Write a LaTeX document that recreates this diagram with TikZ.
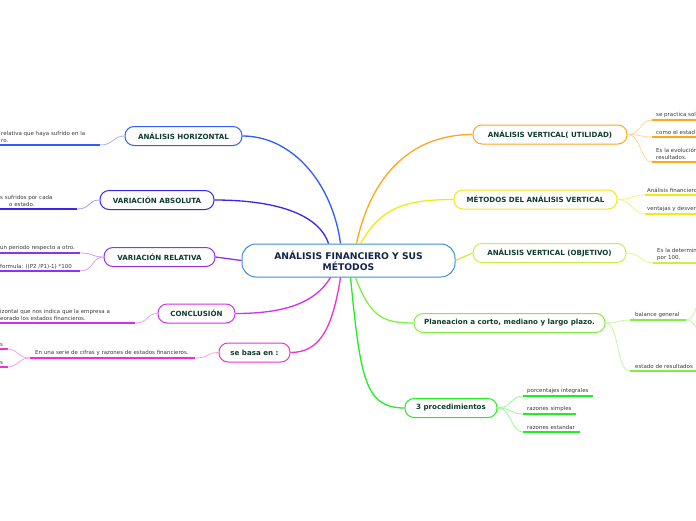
\documentclass[tikz,border=0pt]{standalone}
\usepackage{fontspec}
\setmainfont{DejaVu Sans}
\definecolor{ccentral}{HTML}{3B8ED0}
\definecolor{cnavy}{HTML}{14244A}
\definecolor{ctext}{HTML}{0E3D2E}
\definecolor{cleaf}{HTML}{3A3A3A}
\definecolor{cbA}{HTML}{2F5CFF}
\definecolor{cbB}{HTML}{3A24F0}
\definecolor{cpu}{HTML}{9030F0}
\definecolor{cma}{HTML}{D030F0}
\definecolor{cpi}{HTML}{F030D0}
\definecolor{cor}{HTML}{FFA51E}
\definecolor{cye}{HTML}{F2EA10}
\definecolor{cyg}{HTML}{C8F040}
\definecolor{cgA}{HTML}{80EE40}
\definecolor{cgB}{HTML}{20EE20}
\tikzset{
  mainbox/.style={draw=ccentral, rounded corners=14pt, line width=1pt, fill=white, align=center,
    font=\fontsize{9.2}{11}\selectfont\bfseries, text=cnavy, minimum width=213pt, minimum height=33pt, inner sep=1pt},
  topic/.style={draw, rounded corners=9pt, line width=1pt, fill=white,
    font=\fontsize{7.1}{8}\selectfont\bfseries, text=ctext, minimum height=19pt, inner xsep=0pt},
  leaf/.style={font=\fontsize{5.5}{7}\selectfont, text=cleaf, inner sep=0pt, align=left, anchor=south west},
  uline/.style={line width=2pt},
  twig/.style={line width=0.8pt},
  branch/.style={line width=1.3pt}
}
\begin{document}
\begin{tikzpicture}[x=1pt,y=-1pt]
\useasboundingbox (0,0) rectangle (696,520);
\node[mainbox] (c) at (348.5,260.5) {ANÁLISIS FINANCIERO Y SUS\\MÉTODOS};
\node[topic, draw=cbA, minimum width=117pt] (nh) at (183.5,136) {ANÁLISIS HORIZONTAL};
\node[topic, draw=cbB, minimum width=114pt] (na) at (157,200) {VARIACIÓN ABSOLUTA};
\node[topic, draw=cpu, minimum width=111pt] (nr) at (159.5,257) {VARIACIÓN RELATIVA};
\node[topic, draw=cma, minimum width=77pt] (nc) at (196.5,313.5) {CONCLUSIÓN};
\node[topic, draw=cpi, minimum width=71pt] (ns) at (254.5,352.5) {se basa en :};
\node[topic, draw=cor, minimum width=154pt] (nu) at (550,134.5) {ANÁLISIS VERTICAL( UTILIDAD)};
\node[topic, draw=cye, minimum width=163pt] (nm) at (535.5,199.5) {MÉTODOS DEL ANÁLISIS VERTICAL};
\node[topic, draw=cyg, minimum width=153pt] (no) at (549.5,253) {ANÁLISIS VERTICAL (OBJETIVO)};
\node[topic, draw=cgA, minimum width=191pt] (np) at (509.5,323) {Planeacion a corto, mediano y largo plazo.};
\node[topic, draw=cgB, minimum width=92pt] (n3) at (451,408) {3 procedimientos};

\draw[branch, cbA] ([xshift=-8pt]c.north) .. controls +(-8,-60) and +(50,0) .. (nh.east);
\draw[branch, cbB] ([xshift=-20pt]c.north) .. controls +(-10,-30) and +(60,0) .. (na.east);
\draw[branch, cpu] (c.west) -- (nr.east);
\draw[branch, cma] ([xshift=-18pt]c.south) .. controls +(-15,25) and +(50,0) .. (nc.east);
\draw[branch, cpi] ([xshift=-8pt]c.south) .. controls +(-8,50) and +(30,0) .. (ns.east);
\draw[branch, cor] ([xshift=8pt]c.north) .. controls +(15,-70) and +(-60,0) .. (nu.west);
\draw[branch, cye] ([xshift=12pt]c.north) .. controls +(20,-35) and +(-50,0) .. (nm.west);
\draw[branch, cyg] (c.east) -- (no.west);
\draw[branch, cgA] ([xshift=7pt]c.south) .. controls +(15,40) and +(-30,0) .. (np.west);
\draw[branch, cgB] ([xshift=2pt]c.south) .. controls +(10,100) and +(-40,0) .. (n3.west);

% ---- left leaves
\coordinate (h1a) at (0,145); \coordinate (h1b) at (100,145);
\node[leaf] (h1) at (1,143) {relativa que haya sufrido en la\\ro.};
\draw[uline, cbA] (h1a) -- (h1b);
\draw[twig, cbA!45] (h1b) .. controls +(14,0) and +(-12,0) .. (nh.west);

\coordinate (a1a) at (0,209); \coordinate (a1b) at (77,209);
\node[leaf] (a1) at (0,207) {s sufridos por cada\\\hspace*{9pt}o estado.};
\draw[uline, cbB] (a1a) -- (a1b);
\draw[twig, cbB!45] (a1b) .. controls +(14,0) and +(-12,0) .. (na.west);

\coordinate (r1a) at (0,253); \coordinate (r1b) at (80,253);
\node[leaf] (r1) at (0,251) {un periodo respecto a otro.};
\draw[uline, cpu] (r1a) -- (r1b);
\draw[twig, cpu!45] (r1b) .. controls +(14,0) and +(-12,0) .. (nr.west);
\coordinate (r2a) at (0,271); \coordinate (r2b) at (80,271);
\node[leaf] (r2) at (0,269) {formula: ((P2 /P1)-1) *100};
\draw[uline, cpu] (r2a) -- (r2b);
\draw[twig, cpu!45] (r2b) .. controls +(14,0) and +(-12,0) .. (nr.west);

\coordinate (k1a) at (0,323); \coordinate (k1b) at (135,323);
\node[leaf] (k1) at (0,321) {izontal que nos indica que la empresa a\\eorado los estados financieros.};
\draw[uline, cma] (k1a) -- (k1b);
\draw[twig, cma!45] (k1b) .. controls +(14,0) and +(-12,0) .. (nc.west);

\coordinate (s1a) at (30,358); \coordinate (s1b) at (195,358);
\node[leaf] (s1) at (35,356) {En una serie de cifras y razones de estados financieros.};
\draw[uline, cpi] (s1a) -- (s1b);
\draw[twig, cpi!45] (s1b) .. controls +(14,0) and +(-12,0) .. (ns.west);
\coordinate (s2a) at (0,349); \coordinate (s2b) at (8,349);
\node[leaf] (s2) at (0,347) {s};
\draw[uline, cpi] (s2a) -- (s2b);
\draw[twig, cpi!45] (s1a) .. controls +(-12,0) and +(10,0) .. (s2b);
\coordinate (s3a) at (0,367); \coordinate (s3b) at (8,367);
\node[leaf] (s3) at (0,365) {s};
\draw[uline, cpi] (s3a) -- (s3b);
\draw[twig, cpi!45] (s1a) .. controls +(-12,0) and +(10,0) .. (s3b);

% ---- right leaves
\coordinate (u1a) at (652,120); \coordinate (u1b) at (700,120);
\node[leaf] (u1) at (656,118) {se practica sol};
\draw[uline, cor] (u1a) -- (u1b);
\draw[twig, cor!45] (nu.east) .. controls +(14,0) and +(-12,0) .. (u1a);
\coordinate (u2a) at (652,137); \coordinate (u2b) at (700,137);
\node[leaf] (u2) at (656,135) {como el estad};
\draw[uline, cor] (u2a) -- (u2b);
\draw[twig, cor!45] (nu.east) .. controls +(14,0) and +(-12,0) .. (u2a);
\coordinate (u3a) at (652,162); \coordinate (u3b) at (700,162);
\node[leaf] (u3) at (656,160) {Es la evolución\\resultados.};
\draw[uline, cor] (u3a) -- (u3b);
\draw[twig, cor!45] (nu.east) .. controls +(14,0) and +(-12,0) .. (u3a);

\coordinate (m1a) at (645,195); \coordinate (m1b) at (700,195);
\node[leaf] (m1) at (647,193) {Análisis financiero};
\draw[uline, cye] (m1a) -- (m1b);
\draw[twig, cye!60] (nm.east) .. controls +(14,0) and +(-12,0) .. (m1a);
\coordinate (m2a) at (645,214); \coordinate (m2b) at (700,214);
\node[leaf] (m2) at (647,212) {ventajas y desven};
\draw[uline, cye] (m2a) -- (m2b);
\draw[twig, cye!60] (nm.east) .. controls +(14,0) and +(-12,0) .. (m2a);

\coordinate (o1a) at (653,263); \coordinate (o1b) at (700,263);
\node[leaf] (o1) at (657,261) {Es la determin\\por 100.};
\draw[uline, cyg] (o1a) -- (o1b);
\draw[twig, cyg!60] (no.east) .. controls +(14,0) and +(-12,0) .. (o1a);

\coordinate (p1a) at (630,320); \coordinate (p1b) at (686,320);
\node[leaf] (p1) at (635,318) {balance general};
\draw[uline, cgA] (p1a) -- (p1b);
\draw[twig, cgA!50] (np.east) .. controls +(14,0) and +(-12,0) .. (p1a);
\coordinate (p1c) at (700,300); \coordinate (p1d) at (700,330);
\draw[twig, cgA!50] (p1b) .. controls +(8,0) and +(-4,6) .. (p1c);
\draw[twig, cgA!50] (p1b) .. controls +(8,0) and +(-6,-2) .. (p1d);
\coordinate (p2a) at (630,371); \coordinate (p2b) at (700,371);
\node[leaf] (p2) at (635,369) {estado de resultados};
\draw[uline, cgA] (p2a) -- (p2b);
\draw[twig, cgA!50] (np.east) .. controls +(14,0) and +(-14,0) .. (p2a);

\coordinate (t1a) at (523,396); \coordinate (t1b) at (593,396);
\node[leaf] (t1) at (527,394) {porcentajes integrales};
\draw[uline, cgB] (t1a) -- (t1b);
\draw[twig, cgB!45] (n3.east) .. controls +(14,0) and +(-12,0) .. (t1a);
\coordinate (t2a) at (523,414); \coordinate (t2b) at (576,414);
\node[leaf] (t2) at (527,412) {razones simples};
\draw[uline, cgB] (t2a) -- (t2b);
\draw[twig, cgB!45] (n3.east) .. controls +(14,0) and +(-12,0) .. (t2a);
\coordinate (t3a) at (523,432); \coordinate (t3b) at (580,432);
\node[leaf] (t3) at (527,430) {razones estandar};
\draw[uline, cgB] (t3a) -- (t3b);
\draw[twig, cgB!45] (n3.east) .. controls +(14,0) and +(-12,0) .. (t3a);
\end{tikzpicture}
\end{document}
